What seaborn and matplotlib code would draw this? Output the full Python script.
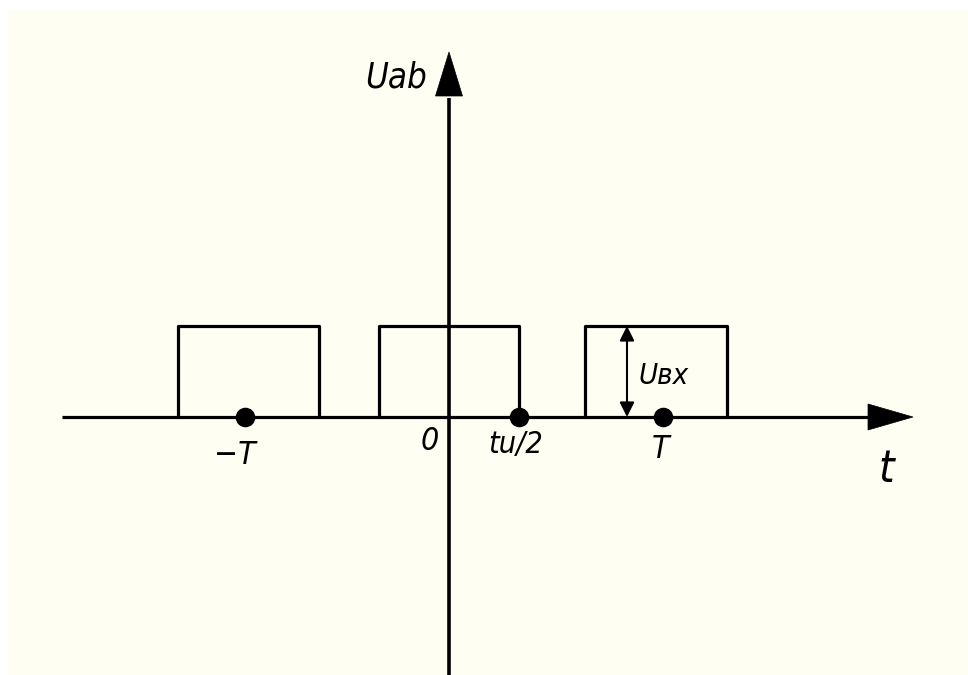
import matplotlib
matplotlib.use("Agg")
import matplotlib.pyplot as plt
from matplotlib.patches import Polygon, Rectangle
import seaborn as sns
import pandas as pd

# Pulse train: each pulse given by its rising and falling edge (time units)
pulse_starts = [-271, -70, 136]
pulse_ends = [-130, 70, 278]
pulse_height = 91

# Marked instants on the time axis
mark_times = [-204, 70, 214]
mark_labels = ["\u2212T", "tu/2", "T"]

sns.set_theme(style="white")
plt.rcParams["font.family"] = ["DejaVu Sans"]

W, H = 968, 675
ox, oy = 449, 417  # origin position in the figure
fig = plt.figure(figsize=(W / 100, H / 100), dpi=100)
fig.patch.set_facecolor("white")
ax = fig.add_axes([0, 0, 1, 1])
ax.set_xlim(-ox, W - ox)
ax.set_ylim(oy - H, oy)
ax.set_axis_off()
ax.set_facecolor("none")

# cream drawing sheet
ax.add_patch(Rectangle((8 - ox, oy - H), W, H - 10, facecolor="#FEFEF2",
                       edgecolor="none", zorder=0))

ink = "black"

# horizontal axis with arrow head
ax.plot([62 - ox, 870 - ox], [0, 0], color=ink, lw=2.3, solid_capstyle="butt", zorder=2)
ax.add_patch(Polygon([[868 - ox, 13], [913 - ox, 0], [868 - ox, -13]], closed=True,
                     facecolor=ink, edgecolor=ink, lw=0.5, zorder=3))
# vertical axis with arrow head
ax.plot([0, 0], [oy - H, oy - 98], color=ink, lw=2.6, solid_capstyle="butt", zorder=2)
ax.add_patch(Polygon([[-13.5, oy - 96], [0, oy - 52], [13.5, oy - 96]], closed=True,
                     facecolor=ink, edgecolor=ink, lw=0.5, zorder=3))

# rectangular pulses
for s, e in zip(pulse_starts, pulse_ends):
    df = pd.DataFrame({"t": [s, s, e, e], "u": [0, pulse_height, pulse_height, 0]})
    sns.lineplot(data=df, x="t", y="u", sort=False, estimator=None, errorbar=None,
                 color=ink, lw=2.3, ax=ax, zorder=2, legend=False)

# marked instants
sns.scatterplot(x=mark_times, y=[0] * len(mark_times), s=170, color=ink,
                edgecolor=ink, ax=ax, zorder=4, legend=False)

# amplitude dimension arrow inside the third pulse
ax.annotate("", xy=(178, pulse_height), xytext=(178, 0),
            arrowprops=dict(arrowstyle="<|-|>", color=ink, lw=1.5,
                            mutation_scale=22, shrinkA=0, shrinkB=0), zorder=3)

tkw = dict(color=ink, style="italic", ha="center", va="center", zorder=5,
           fontstretch="condensed", fontweight="light")
ax.text(396 - ox, oy - 78, "Uab", fontsize=25, **tkw)
ax.text(235 - ox, oy - 456, mark_labels[0], fontsize=23, **tkw)
ax.text(430 - ox, oy - 442, "0", fontsize=23, **tkw)
ax.text(516 - ox, oy - 445, mark_labels[1], fontsize=22, **tkw)
ax.text(661 - ox, oy - 449, mark_labels[2], fontsize=23, **tkw)
ax.text(886 - ox, oy - 470, "t", fontsize=32, **tkw)
ax.text(664 - ox, oy - 376, "U\u0432x", fontsize=21, **tkw)

fig.savefig("out.png", dpi=100, facecolor=fig.get_facecolor())
